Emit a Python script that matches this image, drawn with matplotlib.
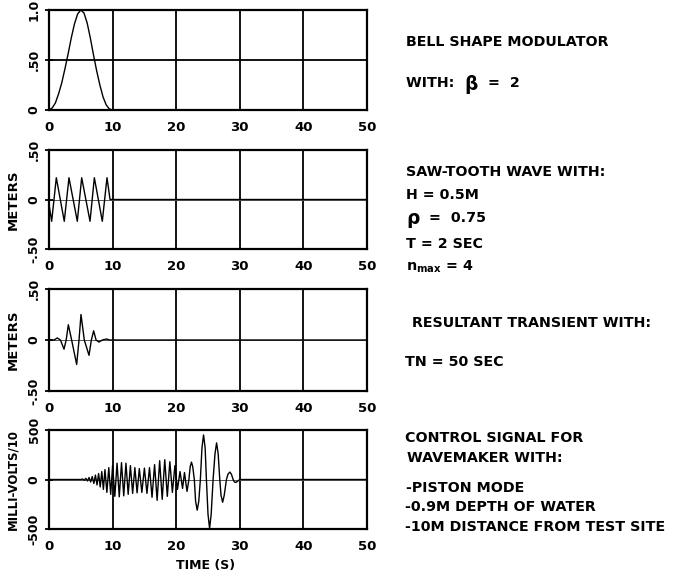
import matplotlib
matplotlib.use("Agg")
import matplotlib.pyplot as plt

plt.rcParams["font.family"] = ["DejaVu Sans"]
plt.rcParams["font.weight"] = "bold"
plt.rcParams["mathtext.default"] = "bf"

# ---- data ----
X_TICKS = [0, 10, 20, 30, 40, 50]

BELL_T = [0, 0.5, 1, 1.5, 2, 2.5, 3, 3.5, 4, 4.5, 5, 5.5, 6, 6.5, 7, 7.5, 8, 8.5, 9, 9.5, 10, 50]
BELL_V = [0, 0.02, 0.07, 0.16, 0.27, 0.41, 0.56, 0.72, 0.86, 0.96, 1.0, 0.97, 0.87, 0.72, 0.55,
          0.39, 0.25, 0.13, 0.05, 0.01, 0, 0]

SAW_T = [0, 0.42, 1.15, 2.4, 3.14, 4.45, 5.14, 6.45, 7.13, 8.38, 9.12, 9.6, 10, 50]
SAW_V = [-0.05, -0.22, 0.22, -0.22, 0.22, -0.22, 0.22, -0.22, 0.22, -0.22, 0.22, 0, 0, 0]

TRANS_T = [0, 0.8, 1.3, 1.8, 2.36, 2.7, 3.04, 3.56, 4.35, 4.72, 5.03, 5.55, 6.29, 6.66, 7.02,
           7.4, 7.86, 8.4, 9.06, 9.5, 50]
TRANS_V = [0, 0, 0.02, 0, -0.09, 0, 0.15, 0, -0.24, 0, 0.25, 0, -0.15, 0, 0.09, 0, -0.02, 0,
           0.01, 0, 0]

CTRL_T = [0, 5.0, 5.3, 5.55, 5.8, 6.05, 6.3, 6.55, 6.8, 7.05, 7.3, 7.55, 7.8, 8.05, 8.3, 8.55,
          8.8, 9.1, 9.4, 9.7, 10.0, 10.35, 10.7, 11.05, 11.4, 11.75, 12.1, 12.45, 12.8, 13.15,
          13.5, 13.85, 14.2, 14.6, 15.0, 15.4, 15.8, 16.2, 16.6, 17.0, 17.4, 17.8, 18.2, 18.6,
          19.0, 19.4, 19.8, 20.2, 20.6, 21.0, 21.3, 21.7, 22.0, 22.2, 22.4, 22.6, 22.85, 23.05,
          23.3, 23.55, 23.8, 24.05, 24.3, 24.55, 24.75, 25.0, 25.25, 25.5, 25.8, 26.1, 26.35,
          26.6, 26.85, 27.05, 27.3, 27.55, 27.9, 28.15, 28.45, 28.7, 28.95, 29.15, 29.4, 29.7,
          30.0, 50]
CTRL_V = [0, 0, 5, -8, 12, -15, 20, -25, 30, -40, 45, -55, 60, -75, 80, -100,
          100, -130, 120, -150, 140, -170, 165, -175, 170, -165, 165, -150, 140, -140,
          120, -135, 110, -130, 115, -140, 120, -180, 150, -210, 190, -200, 200, -170,
          180, -130, 140, -100, 80, -90, 70, -120, 0, 130, 175, 130, 0, -220,
          -310, -220, 0, 320, 450, 320, 0, -350, -495, -350, 0, 260, 370,
          260, 0, -160, -230, -160, 0, 55, 75, 50, 0, -25, -30, -15,
          0, 0]

PANEL_SERIES = [(BELL_T, BELL_V), (SAW_T, SAW_V), (TRANS_T, TRANS_V), (CTRL_T, CTRL_V)]
Y_TICKS = [[0, 0.5, 1.0], [-0.5, 0, 0.5], [-0.5, 0, 0.5], [-500, 0, 500]]
Y_TICK_LABELS = [["0", ".50", "1.0"], ["-.50", "0", ".50"], ["-.50", "0", ".50"],
                 ["-500", "0", "500"]]
Y_LABELS = [None, "METERS", "METERS", "MILLI-VOLTS/10"]
Y_LABEL_SIZES = [None, 9.5, 9.5, 8.5]
MID_LINE = [0.5, 0, 0, 0]

NOTES = [
    (406, 42, "BELL SHAPE MODULATOR"),
    (406, 172, "SAW-TOOTH WAVE WITH:"),
    (406, 195, "H = 0.5M"),
    (406, 244, "T = 2 SEC"),
    (406, 267, r"$n_{max}$ = 4"),
    (412, 323, "RESULTANT TRANSIENT WITH:"),
    (405, 362, "TN = 50 SEC"),
    (405, 438, "CONTROL SIGNAL FOR"),
    (407, 458, "WAVEMAKER WITH:"),
    (406, 488, "-PISTON MODE"),
    (405, 507, "-0.9M DEPTH OF WATER"),
    (405, 527, "-10M DISTANCE FROM TEST SITE"),
]
# lines that carry an enlarged greek letter: (x, y, prefix, greek, suffix)
GREEK_NOTES = [
    (406, 83, "WITH:  ", "\u03b2", "  =  2"),
    (406, 218, "", "\u03c1", "  =  0.75"),
]

W, H = 684, 575
PANEL_PX = [(10, 110), (150, 249), (289, 391), (430, 529)]
AX_LEFT, AX_RIGHT = 49, 367
NOTE_SIZE = 10.3

fig = plt.figure(figsize=(W / 100, H / 100), dpi=100)

for i, (top, bot) in enumerate(PANEL_PX):
    ax = fig.add_axes([AX_LEFT / W, 1 - bot / H, (AX_RIGHT - AX_LEFT) / W, (bot - top) / H])
    t, v = PANEL_SERIES[i]
    ax.set_xlim(0, 50)
    ax.set_ylim(Y_TICKS[i][0], Y_TICKS[i][-1])

    for xg in X_TICKS[1:-1]:
        ax.axvline(xg, color="black", lw=1.3, zorder=1)
    if i == 0:
        ax.axhline(MID_LINE[i], color="black", lw=1.3, zorder=1)
    else:
        ax.axhline(MID_LINE[i], color="#555555", lw=0.7, zorder=1)

    ax.plot(t, v, color="black", lw=1.0, zorder=3)

    ax.set_xticks(X_TICKS)
    ax.set_xticklabels([str(x) for x in X_TICKS], fontsize=9.5, fontweight="bold")
    ax.set_yticks(Y_TICKS[i])
    ax.set_yticklabels(Y_TICK_LABELS[i], rotation=90, va="center", fontsize=9, fontweight="bold")
    ax.tick_params(axis="x", length=0, pad=8)
    ax.tick_params(axis="y", direction="inout", length=6, width=1.3, pad=3)
    for sp in ax.spines.values():
        sp.set_linewidth(1.6)

    if Y_LABELS[i]:
        fig.text(13 / W, 1 - (top + bot) / 2 / H, Y_LABELS[i], rotation=90, ha="center",
                 va="center", fontsize=Y_LABEL_SIZES[i], fontweight="bold")

fig.text(206 / W, 1 - 566 / H, "TIME (S)", ha="center", va="center", fontsize=9,
         fontweight="bold")

for x, y, s in NOTES:
    fig.text(x / W, 1 - y / H, s, ha="left", va="center", fontsize=NOTE_SIZE, fontweight="bold")

# greek lines: draw the pieces one after another so the letter can be larger
fig.canvas.draw()
renderer = fig.canvas.get_renderer()
for x, y, pre, greek, post in GREEK_NOTES:
    cur = x / W
    for s, size, dy in ((pre, NOTE_SIZE, 0), (greek, NOTE_SIZE * 1.3, 1), (post, NOTE_SIZE, 0)):
        if not s:
            continue
        txt = fig.text(cur, 1 - (y + dy) / H, s, ha="left", va="center", fontsize=size,
                       fontweight="bold")
        bb = txt.get_window_extent(renderer=renderer)
        cur += bb.width / W

fig.savefig("out.png", dpi=100)
